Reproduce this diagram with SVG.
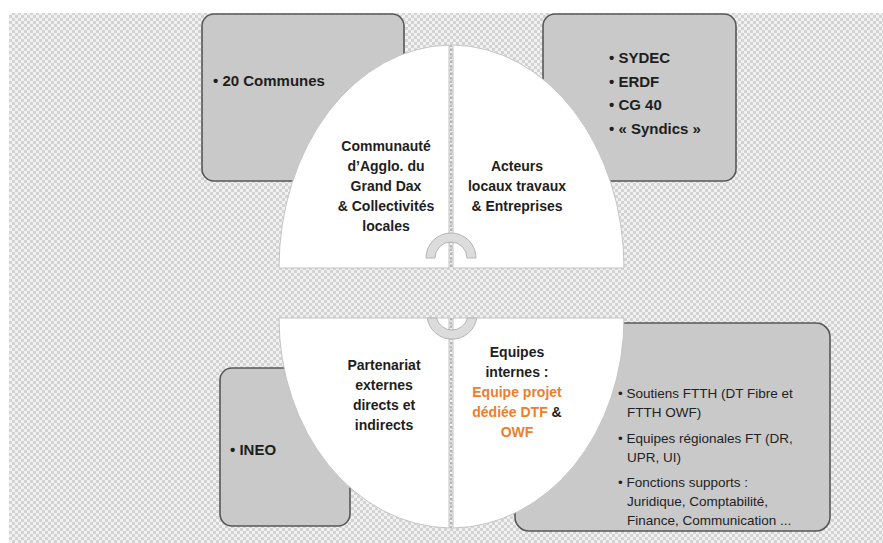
<svg xmlns="http://www.w3.org/2000/svg" width="883" height="543" viewBox="0 0 883 543">
<defs>
<pattern id="chk" width="6" height="6" patternUnits="userSpaceOnUse">
<rect width="6" height="6" fill="#f1f1f1"/>
<rect width="3" height="3" fill="#d3d3d3"/>
<rect x="3" y="3" width="3" height="3" fill="#d3d3d3"/>
</pattern>
<style>
.box{fill:#c9c9c9;stroke:#575757;stroke-width:1.6}
.q{fill:#ffffff;stroke:#c4c4c4;stroke-width:1}
.div{stroke:#a0a0a0;stroke-width:1.3;stroke-dasharray:2 2;fill:none}
.arc{fill:#dcdcdc;stroke:#b3b3b3;stroke-width:1}
.t{font-family:"Liberation Sans",Arial,sans-serif;font-weight:bold;font-size:14px;fill:#1e1e1e;text-anchor:middle}
.bt{font-family:"Liberation Sans",Arial,sans-serif;font-weight:bold;font-size:15px;fill:#1e1e1e}
.st{font-family:"Liberation Sans",Arial,sans-serif;font-size:13.5px;fill:#222}
.or{fill:#f07d2a}
</style>
</defs>
<rect x="0" y="0" width="883" height="543" fill="#ffffff"/>
<rect x="9" y="13" width="874" height="530" fill="url(#chk)"/>

<g id="box-communes">
<rect class="box" x="202" y="14" width="202" height="167" rx="12"/>
<text class="bt" x="213" y="86">• 20 Communes</text>
</g>
<g id="box-sydec">
<rect class="box" x="543" y="14" width="193" height="167" rx="12"/>
<text class="bt" x="609" y="63">• SYDEC</text>
<text class="bt" x="609" y="87">• ERDF</text>
<text class="bt" x="609" y="110">• CG 40</text>
<text class="bt" x="609" y="134">• « Syndics »</text>
</g>
<g id="box-ineo">
<rect class="box" x="220" y="368" width="130" height="158" rx="12"/>
<text class="bt" x="230" y="455">• INEO</text>
</g>
<g id="box-internes">
<rect class="box" x="515" y="323" width="315" height="208" rx="14"/>
<text class="st" x="618" y="398">• Soutiens FTTH (DT Fibre et</text>
<text class="st" x="627" y="417">FTTH OWF)</text>
<text class="st" x="618" y="443">• Equipes régionales FT (DR,</text>
<text class="st" x="627" y="462">UPR, UI)</text>
<text class="st" x="618" y="487">• Fonctions supports :</text>
<text class="st" x="627" y="506">Juridique, Comptabilité,</text>
<text class="st" x="627" y="525">Finance, Communication ...</text>
</g>

<g id="q-communaute">
<path class="q" d="M449 268 L279 268 A173 223 0 0 1 449 45 Z"/>
<text class="t" x="386" y="151">Communauté</text>
<text class="t" x="386" y="171">d’Agglo. du</text>
<text class="t" x="386" y="191">Grand Dax</text>
<text class="t" x="386" y="211">&amp; Collectivités</text>
<text class="t" x="386" y="231">locales</text>
</g>
<g id="q-acteurs">
<path class="q" d="M453 45 A173 223 0 0 1 624 268 L453 268 Z"/>
<text class="t" x="517" y="171">Acteurs</text>
<text class="t" x="517" y="191">locaux travaux</text>
<text class="t" x="517" y="211">&amp; Entreprises</text>
</g>
<g id="q-partenariat">
<path class="q" d="M449 318 L449 528 A173 210 0 0 1 279 318 Z"/>
<text class="t" x="384" y="370">Partenariat</text>
<text class="t" x="384" y="390">externes</text>
<text class="t" x="384" y="410">directs et</text>
<text class="t" x="384" y="430">indirects</text>
</g>
<g id="q-equipes">
<path class="q" d="M453 318 L624 318 A173 210 0 0 1 453 528 Z"/>
<text class="t" x="517" y="357">Equipes</text>
<text class="t" x="517" y="377">internes :</text>
<text class="t or" x="517" y="397">Equipe projet</text>
<text class="t" x="517" y="417"><tspan class="or">dédiée DTF</tspan> &amp;</text>
<text class="t or" x="517" y="437">OWF</text>
</g>

<g id="connectors">
<line class="div" x1="451" y1="45" x2="451" y2="268"/>
<line class="div" x1="451" y1="318" x2="451" y2="528"/>
<path class="arc" d="M426 258 A25 25 0 0 1 476 258 L467 258 A16 16 0 0 0 435 258 Z"/>
<path class="arc" d="M427.3 318 A25 25 0 0 0 476.7 318 L467.5 318 A16 16 0 0 1 436.5 318 Z"/>
</g>
</svg>
